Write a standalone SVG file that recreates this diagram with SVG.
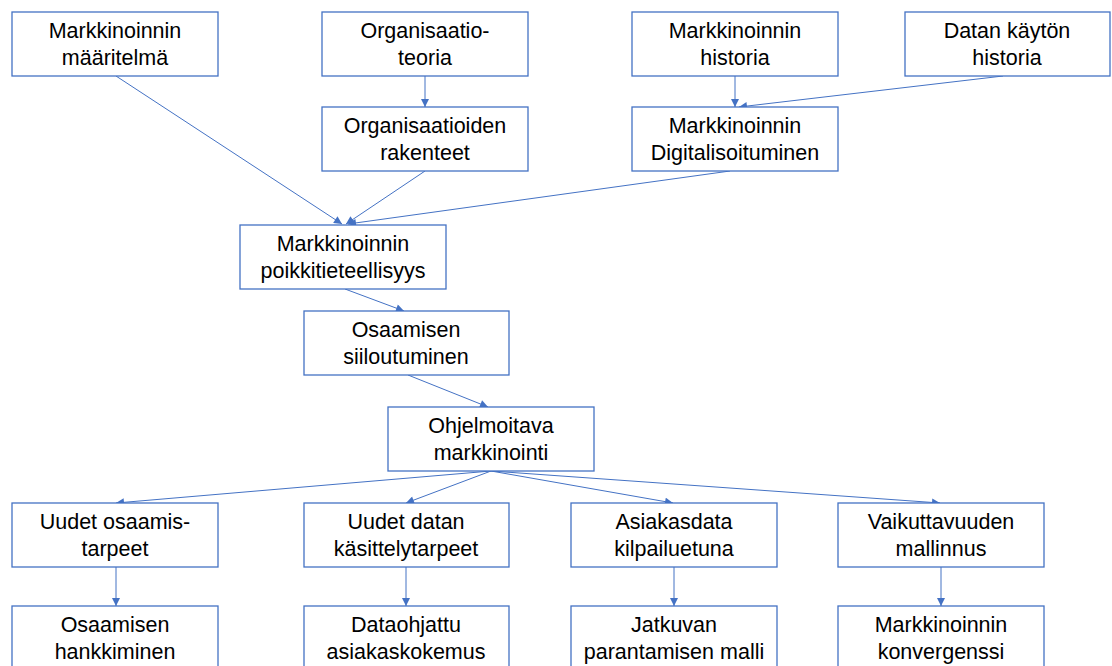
<svg xmlns="http://www.w3.org/2000/svg" width="1112" height="666" viewBox="0 0 1112 666">
  <style>
    .box { fill: #ffffff; stroke: #4472C4; stroke-width: 1.3; }
    .lbl { font-family: "Liberation Sans", Arial, sans-serif; font-size: 21.5px; fill: #000000; text-anchor: middle; }
    .edge { stroke: #4472C4; stroke-width: 1; fill: none; marker-end: url(#arrow); }
  </style>
  <defs>
    <marker id="arrow" viewBox="0 0 10 10" refX="10" refY="5" markerWidth="9" markerHeight="8" markerUnits="userSpaceOnUse" orient="auto">
      <path d="M0,0 L10,5 L0,10 z" fill="#4472C4"/>
    </marker>
  </defs>
  <rect width="1112" height="666" fill="#ffffff"/>

  <g id="connectors">
    <line class="edge" x1="116" y1="76" x2="342" y2="224"/>
    <line class="edge" x1="425" y1="76" x2="425" y2="107"/>
    <line class="edge" x1="425" y1="171" x2="346" y2="224"/>
    <line class="edge" x1="735" y1="76" x2="735" y2="107"/>
    <line class="edge" x1="1003" y1="76" x2="739" y2="107"/>
    <line class="edge" x1="730" y1="171" x2="348" y2="224"/>
    <line class="edge" x1="345" y1="289" x2="404" y2="311"/>
    <line class="edge" x1="408" y1="375" x2="488" y2="407"/>
    <line class="edge" x1="491" y1="471" x2="116" y2="503"/>
    <line class="edge" x1="491" y1="471" x2="406" y2="503"/>
    <line class="edge" x1="491" y1="471" x2="673" y2="503"/>
    <line class="edge" x1="491" y1="471" x2="940" y2="503"/>
    <line class="edge" x1="116" y1="567" x2="116" y2="606"/>
    <line class="edge" x1="406" y1="567" x2="406" y2="606"/>
    <line class="edge" x1="674" y1="567" x2="674" y2="606"/>
    <line class="edge" x1="941" y1="567" x2="941" y2="606"/>
  </g>

  <g id="n-maaritelma">
    <rect class="box" x="12" y="12" width="206" height="64"/>
    <text class="lbl" x="115" y="38">Markkinoinnin</text>
    <text class="lbl" x="115" y="65">määritelmä</text>
  </g>
  <g id="n-organisaatioteoria">
    <rect class="box" x="322" y="12" width="206" height="64"/>
    <text class="lbl" x="425" y="38">Organisaatio-</text>
    <text class="lbl" x="425" y="65">teoria</text>
  </g>
  <g id="n-historia">
    <rect class="box" x="632" y="12" width="206" height="64"/>
    <text class="lbl" x="735" y="38">Markkinoinnin</text>
    <text class="lbl" x="735" y="65">historia</text>
  </g>
  <g id="n-datan-historia">
    <rect class="box" x="905" y="12" width="205" height="64"/>
    <text class="lbl" x="1007" y="38">Datan käytön</text>
    <text class="lbl" x="1007" y="65">historia</text>
  </g>
  <g id="n-rakenteet">
    <rect class="box" x="322" y="107" width="206" height="64"/>
    <text class="lbl" x="425" y="133">Organisaatioiden</text>
    <text class="lbl" x="425" y="160">rakenteet</text>
  </g>
  <g id="n-digitalisoituminen">
    <rect class="box" x="632" y="107" width="206" height="64"/>
    <text class="lbl" x="735" y="133">Markkinoinnin</text>
    <text class="lbl" x="735" y="160">Digitalisoituminen</text>
  </g>
  <g id="n-poikkitieteellisyys">
    <rect class="box" x="240" y="225" width="206" height="64"/>
    <text class="lbl" x="343" y="251">Markkinoinnin</text>
    <text class="lbl" x="343" y="278">poikkitieteellisyys</text>
  </g>
  <g id="n-siiloutuminen">
    <rect class="box" x="304" y="311" width="205" height="64"/>
    <text class="lbl" x="406" y="337">Osaamisen</text>
    <text class="lbl" x="406" y="364">siiloutuminen</text>
  </g>
  <g id="n-ohjelmoitava">
    <rect class="box" x="388" y="407" width="206" height="64"/>
    <text class="lbl" x="491" y="433">Ohjelmoitava</text>
    <text class="lbl" x="491" y="460">markkinointi</text>
  </g>
  <g id="n-osaamistarpeet">
    <rect class="box" x="12" y="503" width="206" height="64"/>
    <text class="lbl" x="115" y="529">Uudet osaamis-</text>
    <text class="lbl" x="115" y="556">tarpeet</text>
  </g>
  <g id="n-kasittelytarpeet">
    <rect class="box" x="304" y="503" width="205" height="64"/>
    <text class="lbl" x="406" y="529">Uudet datan</text>
    <text class="lbl" x="406" y="556">käsittelytarpeet</text>
  </g>
  <g id="n-kilpailuetu">
    <rect class="box" x="571" y="503" width="206" height="64"/>
    <text class="lbl" x="674" y="529">Asiakasdata</text>
    <text class="lbl" x="674" y="556">kilpailuetuna</text>
  </g>
  <g id="n-vaikuttavuus">
    <rect class="box" x="838" y="503" width="206" height="64"/>
    <text class="lbl" x="941" y="529">Vaikuttavuuden</text>
    <text class="lbl" x="941" y="556">mallinnus</text>
  </g>
  <g id="n-hankkiminen">
    <rect class="box" x="12" y="606" width="206" height="64"/>
    <text class="lbl" x="115" y="632">Osaamisen</text>
    <text class="lbl" x="115" y="659">hankkiminen</text>
  </g>
  <g id="n-asiakaskokemus">
    <rect class="box" x="304" y="606" width="205" height="64"/>
    <text class="lbl" x="406" y="632">Dataohjattu</text>
    <text class="lbl" x="406" y="659">asiakaskokemus</text>
  </g>
  <g id="n-parantaminen">
    <rect class="box" x="571" y="606" width="206" height="64"/>
    <text class="lbl" x="674" y="632">Jatkuvan</text>
    <text class="lbl" x="674" y="659">parantamisen malli</text>
  </g>
  <g id="n-konvergenssi">
    <rect class="box" x="838" y="606" width="206" height="64"/>
    <text class="lbl" x="941" y="632">Markkinoinnin</text>
    <text class="lbl" x="941" y="659">konvergenssi</text>
  </g>
</svg>
